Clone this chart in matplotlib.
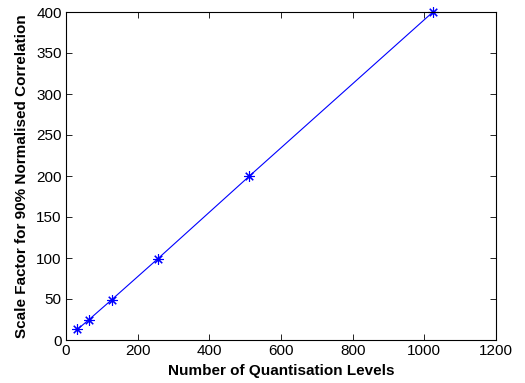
import matplotlib
matplotlib.use("Agg")
import matplotlib.pyplot as plt

levels = [32, 64, 128, 256, 512, 1024]
scale_factor = [13, 24.8, 49.3, 99, 200, 400]

plt.rcParams['font.family'] = ['Liberation Sans', 'DejaVu Sans']

fig = plt.figure(figsize=(5.25, 3.83), dpi=100)
ax = fig.add_axes([66/525, 1-340/383, (496-66)/525, (340-12)/383])
ax.plot(levels, scale_factor, color='blue', linewidth=0.8, marker=(8, 2, 0), markersize=7.5,
        markeredgewidth=0.8, clip_on=False)
ax.set_xlim(0, 1200)
ax.set_ylim(0, 400)
ax.set_xticks(range(0, 1201, 200))
ax.set_yticks(range(0, 401, 50))
ax.tick_params(direction='in', top=True, right=True, labelsize=11, length=4, width=0.6, pad=3)
for s in ax.spines.values():
    s.set_linewidth(0.8)
ax.set_xlabel("Number of Quantisation Levels", fontweight='bold', fontsize=11, labelpad=4)
ax.set_ylabel("Scale Factor for 90% Normalised Correlation", fontweight='bold', fontsize=11, labelpad=5)
fig.savefig("out.png", dpi=100)
